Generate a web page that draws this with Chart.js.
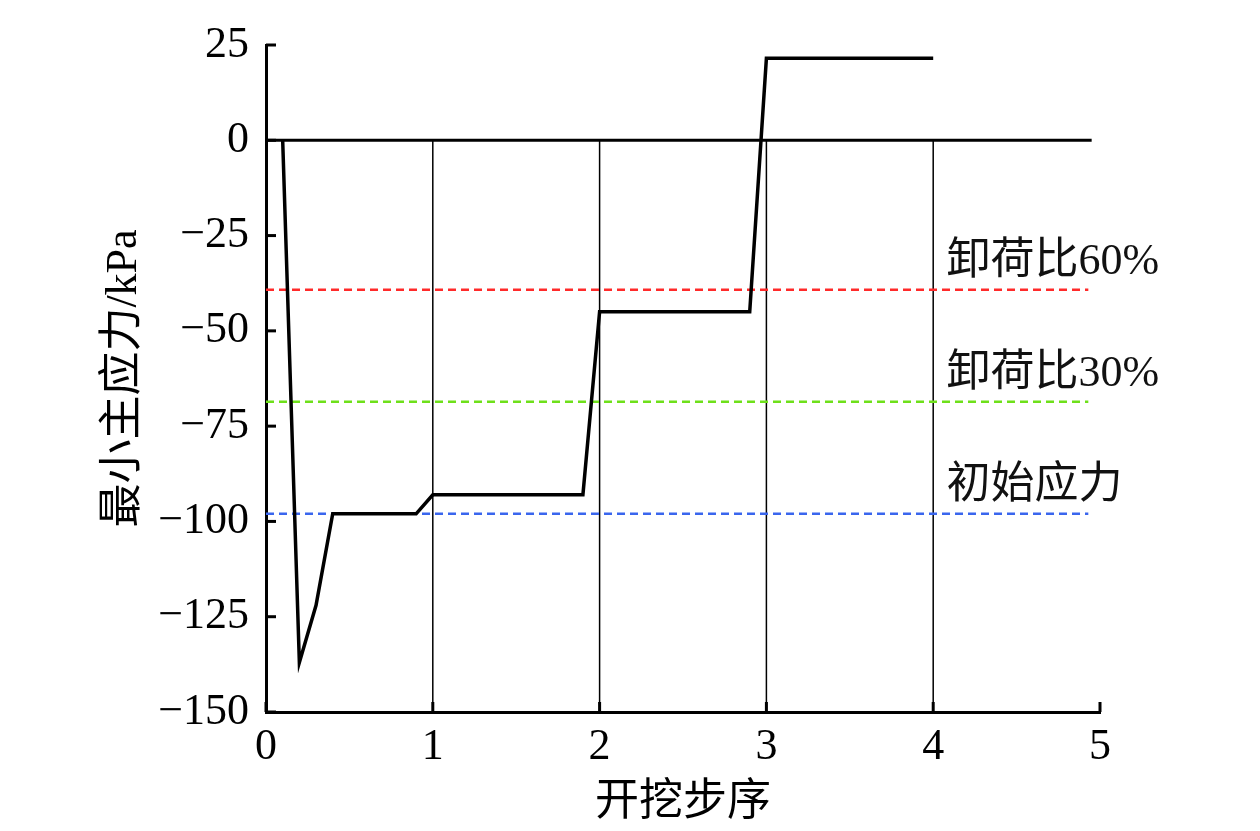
<!DOCTYPE html>
<html>
<head>
<meta charset="utf-8">
<script src="https://cdn.jsdelivr.net/npm/chart.js@4.4.0/dist/chart.umd.min.js"></script>
<style>
  body { margin: 0; background: #fff; }
  #wrap { width: 1260px; height: 831px; }
</style>
</head>
<body>
<div id="wrap"><canvas id="chart1"></canvas></div>
<script>
// data
const stepX = [0.1, 0.2, 0.3, 0.4, 0.9, 1.0, 1.9, 2.0, 2.9, 3.0, 4.0];
const stressY = [0, -137, -122, -98, -98, -93, -93, -45, -45, 21.5, 21.5];

const refLevels = [-39.2, -68.6, -98];
const refNames = ['卸荷比60%', '卸荷比30%', '初始应力'];
const refColors = ['#ff2a2a', '#6ee01a', '#3a66ee'];
const refEndX = 4.93;
const labelX = 4.08;

const zeroLineX = [0, 4.95];
const stepLines = [1, 2, 3, 4];

const yTicks = [25, 0, -25, -50, -75, -100, -125, -150];
const xTicks = [0, 1, 2, 3, 4, 5];

const FONT = "'Liberation Serif', 'Noto Sans CJK SC', serif";

const datasets = [];

// main curve
datasets.push({
    data: stepX.map((x, i) => ({ x: x, y: stressY[i] })),
    borderColor: '#000',
    borderWidth: 3.5,
    pointRadius: 0,
    showLine: true,
    tension: 0
});

// reference levels (dashed)
refLevels.forEach((v, i) => {
    datasets.push({
        data: [{ x: 0, y: v }, { x: refEndX, y: v }],
        borderColor: refColors[i],
        borderWidth: 2.5,
        borderDash: [8, 5],
        pointRadius: 0,
        showLine: true
    });
});

// zero line
datasets.push({
    data: zeroLineX.map(x => ({ x: x, y: 0 })),
    borderColor: '#000',
    borderWidth: 3,
    pointRadius: 0,
    showLine: true
});

// thin vertical lines at each step
stepLines.forEach(s => {
    datasets.push({
        data: [{ x: s, y: 0 }, { x: s, y: -150 }],
        borderColor: '#000',
        borderWidth: 1.5,
        pointRadius: 0,
        showLine: true
    });
});

// inward ticks + level labels
const extras = {
    id: 'extras',
    afterDraw(chart) {
        const c = chart.ctx;
        const xs = chart.scales.x;
        const ys = chart.scales.y;
        c.save();
        c.strokeStyle = '#000';
        c.lineWidth = 3;
        yTicks.forEach(t => {
            const py = ys.getPixelForValue(t);
            c.beginPath();
            c.moveTo(xs.left, py);
            c.lineTo(xs.left + 10, py);
            c.stroke();
        });
        xTicks.forEach(t => {
            const px = xs.getPixelForValue(t);
            c.beginPath();
            c.moveTo(px, ys.bottom);
            c.lineTo(px, ys.bottom - 10);
            c.stroke();
        });
        c.fillStyle = '#111';
        c.font = '44px ' + FONT;
        c.textAlign = 'left';
        c.textBaseline = 'middle';
        refLevels.forEach((v, i) => {
            c.fillText(refNames[i], xs.getPixelForValue(labelX), ys.getPixelForValue(v) - 27);
        });
        c.restore();
    }
};

const ctx1 = document.getElementById('chart1').getContext('2d');
const chart1 = new Chart(ctx1, {
    type: 'scatter',
    data: { datasets: datasets },
    plugins: [extras],
    options: {
        responsive: true,
        maintainAspectRatio: false,
        animation: false,
        layout: { padding: { left: 0, right: 160, top: 45, bottom: 0 } },
        plugins: { legend: { display: false }, tooltip: { enabled: false } },
        scales: {
            x: {
                type: 'linear',
                min: 0,
                max: 5,
                afterFit: s => { s.height = 119; },
                ticks: {
                    stepSize: 1,
                    color: '#000',
                    padding: 9,
                    font: { family: FONT, size: 44 }
                },
                grid: { display: false, drawTicks: false },
                border: { display: true, color: '#000', width: 3 },
                title: {
                    display: true,
                    text: '开挖步序',
                    color: '#000',
                    font: { family: FONT, size: 44 },
                    padding: { top: 0, bottom: 1 }
                }
            },
            y: {
                min: -150,
                max: 25,
                afterFit: s => { s.width = 266; },
                ticks: {
                    stepSize: 25,
                    color: '#000',
                    padding: 17,
                    font: { family: FONT, size: 44 },
                    callback: v => String(v).replace('-', '\u2212')
                },
                grid: { display: false, drawTicks: false },
                border: { display: true, color: '#000', width: 3 },
                title: {
                    display: true,
                    text: '最小主应力/kPa',
                    color: '#000',
                    font: { family: FONT, size: 44 },
                    padding: { top: 98, bottom: 0 }
                }
            }
        }
    }
});
</script>
</body>
</html>
